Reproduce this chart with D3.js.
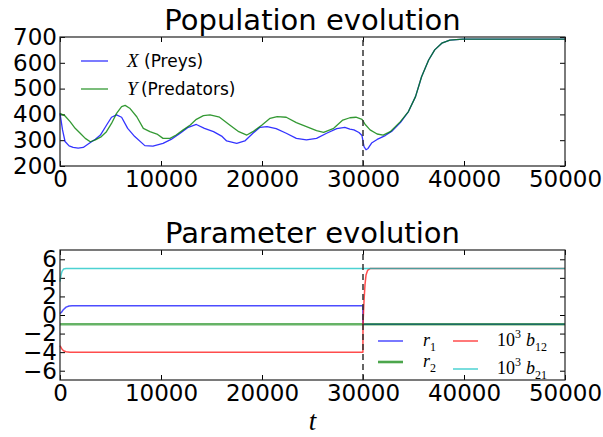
<!DOCTYPE html>
<html>
<head>
<meta charset="utf-8">
<script src="https://cdn.jsdelivr.net/npm/d3@7"></script>
<style>
  body { margin: 0; background: #fff; }
  text { font-family: "DejaVu Sans", sans-serif; }
  .math { font-family: "Liberation Serif", serif; font-style: italic; }
</style>
</head>
<body>
<div id="chart"></div>
<script>
// Population curves
const preyT = [0, 250, 500, 900, 1300, 1800, 2300, 2900, 3500, 4000, 4600, 5100, 5600, 6100, 6700, 7400, 8400, 9200, 10200, 11000, 11900, 12700, 13500, 14300, 15200, 16000, 16500, 17500, 18300, 19100, 19800, 20500, 21400, 22400, 23400, 24400, 25400, 26400, 27400, 28200, 28700, 29100, 29600, 29900, 30100, 30300, 30500, 30850, 31400, 32200, 32900, 33700, 34500, 35200, 35800, 36500, 37100, 37800, 38600, 39900, 42000, 50000];
const preyX = [404, 340, 295, 278, 272, 269, 272, 288, 304, 320, 358, 389, 398, 389, 346, 314, 279, 277, 288, 303, 327, 350, 361, 346, 333, 316, 297, 288, 297, 327, 350, 353, 345, 327, 307, 301, 307, 327, 345, 350, 343, 340, 330, 318, 275, 263, 268, 289, 303, 318, 336, 368, 411, 469, 546, 611, 650, 676, 688, 692, 692, 692];

const predT = [0, 500, 1000, 1500, 2000, 2500, 3000, 3500, 4100, 4600, 5100, 5600, 6100, 6450, 6900, 7600, 8250, 8900, 9600, 10200, 10900, 11500, 12200, 12900, 13500, 14200, 14850, 15800, 16800, 17700, 18500, 19100, 20000, 20800, 21500, 22400, 23400, 24400, 25400, 26100, 27100, 28000, 28700, 29300, 29900, 30200, 30700, 31400, 32000, 32700, 33700, 34500, 35200, 35800, 36500, 37100, 37800, 38600, 39900, 42000, 50000];
const predY = [404, 394, 372, 346, 327, 307, 294, 301, 314, 333, 365, 404, 430, 435, 424, 391, 346, 333, 324, 307, 307, 320, 340, 359, 381, 395, 398, 389, 359, 333, 320, 333, 359, 385, 391, 389, 368, 353, 337, 330, 346, 378, 387, 389, 381, 362, 340, 324, 320, 333, 372, 411, 469, 546, 611, 650, 676, 688, 692, 692, 692];

// Parameter curves
const r1T = [0, 150, 350, 600, 900, 1200, 29990, 30000, 50000];
const r1V = [0.15, 0.3, 0.6, 0.85, 0.97, 1.0, 1.0, -1, -1];
const r2T = [0, 50000];
const r2V = [-1, -1];
const b12T = [0, 150, 350, 600, 1000, 29990, 30000, 30100, 30200, 30300, 30450, 30700, 50000];
const b12V = [-3.3, -3.6, -3.85, -3.95, -4, -4, -1, 1.5, 3.3, 4.3, 4.8, 5, 5];
const b21T = [0, 100, 200, 350, 600, 50000];
const b21V = [3.6, 4.3, 4.7, 4.95, 5, 5];

const switchT = 30000;
const xTicks = [0, 10000, 20000, 30000, 40000, 50000];
const popTicks = [200, 300, 400, 500, 600, 700];
const parTicks = [-6, -4, -2, 0, 2, 4, 6];

const width = 603, height = 437;
const left = 60, right = 565;

const svg = d3.select("#chart").append("svg")
    .attr("width", width)
    .attr("height", height);

// draws one framed panel with inward ticks on all four sides
function panel(top, bottom, yDomain, yTicks, title) {
    const x = d3.scaleLinear().domain([0, 50000]).range([left, right]);
    const y = d3.scaleLinear().domain(yDomain).range([bottom, top]);
    const g = svg.append("g");

    g.append("g")
        .attr("transform", `translate(0,${bottom})`)
        .call(d3.axisBottom(x).tickValues(xTicks).tickFormat(d3.format("d"))
            .tickSizeInner(-5).tickSizeOuter(0).tickPadding(5));
    g.append("g")
        .attr("transform", `translate(0,${top})`)
        .call(d3.axisTop(x).tickValues(xTicks).tickFormat("")
            .tickSizeInner(-5).tickSizeOuter(0));
    g.append("g")
        .attr("transform", `translate(${left},0)`)
        .call(d3.axisLeft(y).tickValues(yTicks).tickFormat(d3.format("d"))
            .tickSizeInner(-5).tickSizeOuter(0).tickPadding(3));
    g.append("g")
        .attr("transform", `translate(${right},0)`)
        .call(d3.axisRight(y).tickValues(yTicks).tickFormat("")
            .tickSizeInner(-5).tickSizeOuter(0));

    g.selectAll(".domain").remove();
    g.selectAll(".tick line").attr("stroke", "#000");
    g.selectAll(".tick text")
        .attr("fill", "#000")
        .style("font-size", "23px");

    g.append("text")
        .attr("x", (left + right) / 2)
        .attr("y", top - 7)
        .attr("text-anchor", "middle")
        .style("font-size", "29px")
        .text(title);

    return {x, y, g};
}

const pop = panel(37, 166, [200, 700], popTicks, "Population evolution");
const par = panel(250, 380, [-7, 7], parTicks, "Parameter evolution");

function drawLine(p, ts, vs, color, lw, alpha) {
    const pts = ts.map((t, i) => [t, vs[i]]);
    p.g.append("path")
        .datum(pts)
        .attr("fill", "none")
        .attr("stroke", color)
        .attr("stroke-width", lw)
        .attr("stroke-opacity", alpha)
        .attr("stroke-linejoin", "round")
        .attr("d", d3.line().x(d => p.x(d[0])).y(d => p.y(d[1])));
}

drawLine(pop, preyT, preyX, "#0000ff", 1.3, 0.8);
drawLine(pop, predT, predY, "#008000", 1.3, 0.8);

drawLine(par, r1T, r1V, "#0000ff", 1.5, 0.7);
drawLine(par, r2T, r2V, "#008000", 2.6, 0.6);
drawLine(par, b12T, b12V, "#ff0000", 1.5, 0.7);
drawLine(par, b21T, b21V, "#00bfbf", 1.5, 0.7);

// dashed marker at the switch time
[pop, par].forEach(p => {
    p.g.append("line")
        .attr("x1", p.x(switchT)).attr("x2", p.x(switchT))
        .attr("y1", p.y.range()[0]).attr("y2", p.y.range()[1])
        .attr("stroke", "#333")
        .attr("stroke-width", 1.5)
        .attr("stroke-dasharray", "6,4");
    p.g.append("rect")
        .attr("x", left).attr("y", p.y.range()[1])
        .attr("width", right - left)
        .attr("height", p.y.range()[0] - p.y.range()[1])
        .attr("fill", "none")
        .attr("stroke", "#222")
        .attr("stroke-width", 1.2);
});

// top legend
const topLegend = [
    {sym: "X", label: " (Preys)", color: "#0000ff", y: 61},
    {sym: "Y", label: "\u2009(Predators)", color: "#008000", y: 89}
];
topLegend.forEach(d => {
    svg.append("line")
        .attr("x1", 81).attr("x2", 108)
        .attr("y1", d.y).attr("y2", d.y)
        .attr("stroke", d.color).attr("stroke-opacity", 0.8)
        .attr("stroke-width", 1.3);
    const t = svg.append("text")
        .attr("x", 127).attr("y", d.y + 6)
        .style("font-size", "17px");
    t.append("tspan").attr("class", "math").style("font-size", "19px").text(d.sym);
    t.append("tspan").text(d.label);
});

// bottom legend, two columns
const botLegend = [
    {name: "r", sub: "1", pre: "", color: "#0000ff", lw: 1.5, x: 378, y: 341},
    {name: "r", sub: "2", pre: "", color: "#008000", lw: 2.6, x: 378, y: 362},
    {name: "b", sub: "12", pre: "10", color: "#ff0000", lw: 1.5, x: 453, y: 341},
    {name: "b", sub: "21", pre: "10", color: "#00bfbf", lw: 1.5, x: 453, y: 369}
];
botLegend.forEach(d => {
    svg.append("line")
        .attr("x1", d.x).attr("x2", d.x + 25)
        .attr("y1", d.y).attr("y2", d.y)
        .attr("stroke", d.color).attr("stroke-opacity", 0.7)
        .attr("stroke-width", d.lw);
    const t = svg.append("text")
        .attr("x", d.x + (d.pre ? 44 : 45)).attr("y", d.y + 5)
        .style("font-family", "'Liberation Serif', serif")
        .style("font-size", "18px");
    if (d.pre) {
        t.append("tspan").text(d.pre);
        t.append("tspan").attr("dy", -8).style("font-size", "12px").text("3");
        t.append("tspan").attr("dy", 8).attr("dx", 5).style("font-style", "italic").text(d.name);
    } else {
        t.append("tspan").style("font-style", "italic").text(d.name);
    }
    t.append("tspan").attr("dy", 5).style("font-size", "12px").text(d.sub);
});

// x label
svg.append("text")
    .attr("class", "math")
    .attr("x", (left + right) / 2)
    .attr("y", 430)
    .attr("text-anchor", "middle")
    .style("font-size", "27px")
    .text("t");
</script>
</body>
</html>
